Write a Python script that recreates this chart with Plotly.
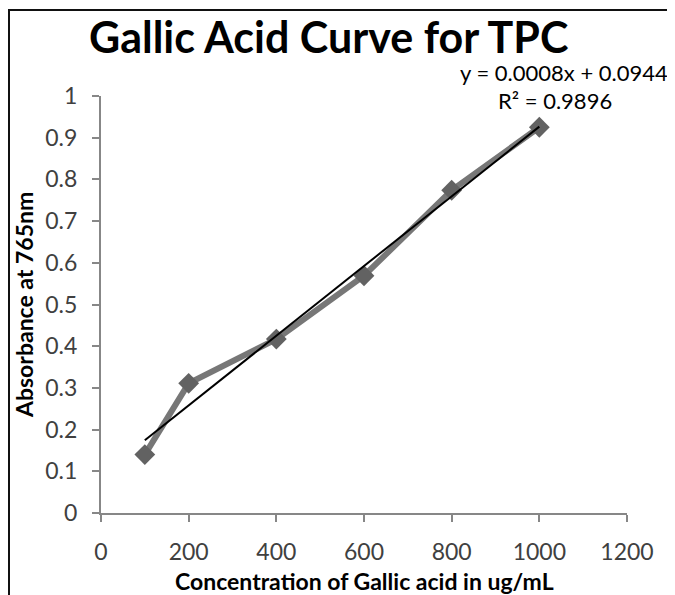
import numpy as np
import plotly.graph_objects as go

concentration = [100, 200, 400, 600, 800, 1000]
absorbance = [0.140, 0.311, 0.417, 0.569, 0.774, 0.925]
x_ticks = [0, 200, 400, 600, 800, 1000, 1200]
y_ticks = [0, 0.1, 0.2, 0.3, 0.4, 0.5, 0.6, 0.7, 0.8, 0.9, 1]
equation_text = "y = 0.0008x + 0.0944"
r2_text = "R² = 0.9896"

slope, intercept = np.polyfit(concentration, absorbance, 1)
trend_x = [min(concentration), max(concentration)]
trend_y = [slope * v + intercept for v in trend_x]

FONT = "Lato, 'Open Sans', sans-serif"

fig = go.Figure()
fig.add_trace(go.Scatter(
    x=concentration, y=absorbance, mode="lines+markers",
    line=dict(color="#777777", width=6),
    marker=dict(symbol="diamond", size=16, color="#626262"),
    showlegend=False, hoverinfo="x+y"))
fig.add_trace(go.Scatter(
    x=trend_x, y=trend_y, mode="lines",
    line=dict(color="#000000", width=2),
    showlegend=False, hoverinfo="skip"))

OFF = 8  # page body margin offset
W, H = 675 - OFF, 595 - OFF
L, R, T, B = 93, 48, 88, 82
pw, ph = W - L - R, H - T - B

def px(p):
    return (p - OFF - L) / pw

def py(p):
    return (H - B - (p - OFF)) / ph

fig.update_layout(
    width=W, height=H,
    margin=dict(l=L, r=R, t=T, b=B),
    paper_bgcolor="white", plot_bgcolor="white",
    font=dict(family=FONT, color="#404040"),
    xaxis=dict(range=[0, 1200], tickvals=x_ticks, showgrid=False, zeroline=False,
               showline=True, linecolor="#878787", linewidth=2,
               ticks="outside", ticklen=7, tickwidth=2, tickcolor="#878787",
               ticklabelstandoff=10,
               tickfont=dict(size=23, color="#404040", family=FONT)),
    yaxis=dict(range=[0, 1], tickvals=y_ticks, showgrid=False, zeroline=False,
               showline=True, linecolor="#878787", linewidth=2,
               ticks="outside", ticklen=7, tickwidth=2, tickcolor="#878787",
               ticklabelstandoff=10,
               tickfont=dict(size=23, color="#404040", family=FONT)),
    shapes=[dict(type="rect", xref="paper", yref="paper",
                 x0=px(9), x1=px(673), y0=py(10), y1=py(640),
                 line=dict(color="#111111", width=2), fillcolor="rgba(0,0,0,0)")],
    annotations=[
        dict(text="<b>Gallic Acid Curve for TPC</b>", xref="paper", yref="paper",
             x=px(328), y=py(36), showarrow=False, xanchor="center", yanchor="middle",
             font=dict(size=43, color="#000000", family=FONT)),
        dict(text=equation_text, xref="paper", yref="paper",
             x=px(670), y=py(73), showarrow=False, xanchor="right", yanchor="middle",
             font=dict(size=22, color="#000000", family=FONT)),
        dict(text=r2_text, xref="paper", yref="paper",
             x=px(555), y=py(100), showarrow=False, xanchor="center", yanchor="middle",
             font=dict(size=22, color="#000000", family=FONT)),
        dict(text="<b>Absorbance at 765nm</b>", xref="paper", yref="paper",
             x=px(24), y=py(305), showarrow=False, textangle=-90,
             xanchor="center", yanchor="middle",
             font=dict(size=23, color="#000000", family=FONT)),
        dict(text="<b>Concentration of Gallic acid in ug/mL</b>", xref="paper", yref="paper",
             x=px(364), y=py(581), showarrow=False, xanchor="center", yanchor="middle",
             font=dict(size=23, color="#000000", family=FONT)),
    ],
)

fig.write_html("out.html")
